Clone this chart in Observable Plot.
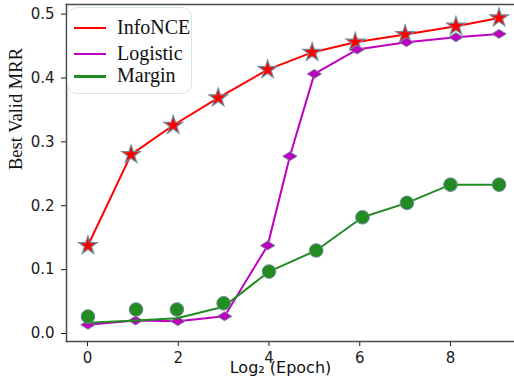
<!DOCTYPE html>
<html>
<head>
<meta charset="utf-8">
<script src="https://cdn.jsdelivr.net/npm/d3@7"></script>
<script src="https://cdn.jsdelivr.net/npm/@observablehq/plot@0.6"></script>
<style>
  html, body { margin: 0; padding: 0; background: #fff; }
  #wrap { position: relative; width: 514px; height: 381px; overflow: hidden; }
  #legend {
    position: absolute; left: 67px; top: 7px; width: 125px; height: 87px;
    box-sizing: border-box; border: 1px solid #d3e6e6; border-radius: 10px;
    background: rgba(255,255,255,0.85);
    font-family: "Liberation Serif", "Times New Roman", serif; font-size: 20px; color: #111;
  }
  .row { position: absolute; left: 0; height: 20px; line-height: 20px; white-space: nowrap; }
  .sw { position: absolute; left: 6px; width: 32px; height: 2.5px; top: 10px; }
  .lab { position: absolute; left: 49px; top: 0; font-family: "Liberation Serif", serif; }
</style>
</head>
<body>
<div id="wrap"><div id="legend"></div></div>
<script>
// ---- data ----
const seriesNames = ["InfoNCE", "Logistic", "Margin"];
const seriesColors = ["#ff0000", "#bf00bf", "#228b22"];

const infoX = [0.01, 0.96, 1.89, 2.88, 3.97, 4.95, 5.90, 7.00, 8.12, 9.07];
const infoY = [0.1377, 0.280, 0.326, 0.369, 0.413, 0.440, 0.456, 0.468, 0.481, 0.494];

const logX = [0.01, 1.06, 1.99, 3.02, 3.97, 4.46, 5.00, 5.94, 7.03, 8.12, 9.07];
const logY = [0.0136, 0.0203, 0.0193, 0.027, 0.1377, 0.2775, 0.4064, 0.4444, 0.4559, 0.4637, 0.469];

const marX = [0.01, 1.07, 1.97, 3.00, 4.00, 5.04, 6.06, 7.04, 8.00, 9.07];
const marLineY = [0.0167, 0.0203, 0.024, 0.042, 0.097, 0.130, 0.182, 0.2045, 0.233, 0.233];
const marDotY = [0.0266, 0.0376, 0.0376, 0.0474, 0.097, 0.130, 0.182, 0.2045, 0.233, 0.233];

const xTicks = [0, 2, 4, 6, 8];
const yTicks = [0, 0.1, 0.2, 0.3, 0.4, 0.5];
const xLabel = "Log\u2082 (Epoch)";
const yLabel = "Best Valid MRR";

// ---- tables ----
const info = infoX.map((x, i) => ({x, y: infoY[i]}));
const logi = logX.map((x, i) => ({x, y: logY[i]}));
const marLine = marX.map((x, i) => ({x, y: marLineY[i]}));
const marDot = marX.map((x, i) => ({x, y: marDotY[i]}));

const thinDiamond = {
  draw(ctx, size) {
    const r = Math.sqrt(size / Math.PI);
    ctx.moveTo(-r, 0); ctx.lineTo(0, -r * 0.62); ctx.lineTo(r, 0); ctx.lineTo(0, r * 0.62); ctx.closePath();
  }
};
const edge = "#6f8b98";

const chart = Plot.plot({
  width: 514, height: 381,
  marginLeft: 66, marginTop: 4, marginBottom: 40, marginRight: 0,
  style: {fontFamily: "'DejaVu Sans', sans-serif", fontSize: "15px", color: "#1a1a1a", background: "white"},
  x: {domain: [-0.4628, 9.41], ticks: xTicks, tickSize: 5, tickPadding: 6, label: null, tickFormat: d3.format("d")},
  y: {domain: [-0.0125, 0.515], ticks: yTicks, tickSize: 5, tickPadding: 7, label: null, tickFormat: d3.format(".1f")},
  marks: [
    Plot.frame({anchor: "left", stroke: "#4a4a4a", strokeWidth: 1.5}),
    Plot.frame({anchor: "top", stroke: "#4a4a4a", strokeWidth: 1.5}),
    Plot.frame({anchor: "bottom", stroke: "#4a4a4a", strokeWidth: 1.5}),
    Plot.lineY(info, {x: "x", y: "y", stroke: seriesColors[0], strokeWidth: 2}),
    Plot.dot(info, {x: "x", y: "y", symbol: "star", r: 5.8, fill: seriesColors[0], stroke: edge, strokeWidth: 1.2}),
    Plot.lineY(logi, {x: "x", y: "y", stroke: seriesColors[1], strokeWidth: 2}),
    Plot.dot(logi, {x: "x", y: "y", symbol: thinDiamond, r: 7.2, fill: seriesColors[1], stroke: edge, strokeWidth: 1}),
    Plot.lineY(marLine, {x: "x", y: "y", stroke: seriesColors[2], strokeWidth: 2}),
    Plot.dot(marDot, {x: "x", y: "y", r: 6.8, fill: seriesColors[2], stroke: edge, strokeWidth: 1}),
    Plot.text([yLabel], {frameAnchor: "left", rotate: -90, dx: -50, dy: -3, fontFamily: "'Liberation Serif', 'Times New Roman', serif", fontSize: 18.5, fill: "#111"}),
    Plot.text([xLabel], {frameAnchor: "bottom", dx: -10, dy: 31.5, fontSize: 16, fill: "#111"})
  ]
});
document.getElementById("wrap").prepend(chart);

// legend
const legend = document.getElementById("legend");
const rowTops = [15.5, 41.5, 64];
seriesNames.forEach((name, i) => {
  const row = document.createElement("div");
  row.className = "row";
  row.style.top = (rowTops[i] - 7) + "px";
  row.innerHTML = `<div class="sw" style="background:${seriesColors[i]}"></div><span class="lab">${name}</span>`;
  legend.appendChild(row);
});
</script>
</body>
</html>
